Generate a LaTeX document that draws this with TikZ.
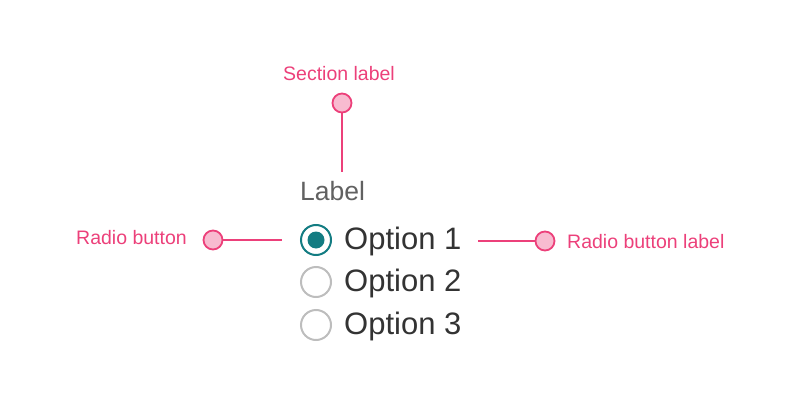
\documentclass[tikz,border=0pt]{standalone}
\usepackage{fontspec}
\setmainfont{Liberation Sans}
\definecolor{pinkline}{HTML}{EC407A}
\definecolor{pinkfill}{HTML}{F8BBD0}
\definecolor{teal}{HTML}{137C82}
\definecolor{offgray}{HTML}{BDBDBD}
\definecolor{labelgray}{HTML}{616161}
\definecolor{optgray}{HTML}{333333}
\begin{document}
\begin{tikzpicture}[x=1pt,y=-1pt,
  callout/.style={text=pinkline,font=\fontsize{19.5}{22}\selectfont,inner sep=0pt,anchor=base},
  dot/.style={circle,draw=pinkline,fill=pinkfill,line width=1.8pt,minimum size=19pt,inner sep=0pt},
  lead/.style={draw=pinkline,line width=1.8pt},
  opt/.style={text=optgray,font=\fontsize{31}{35}\selectfont,inner sep=0pt,anchor=base west},
  radiooff/.style={circle,draw=offgray,line width=2pt,minimum size=30pt,inner sep=0pt},
  radioon/.style={circle,draw=teal,line width=2pt,minimum size=30pt,inner sep=0pt},
  radiodot/.style={circle,fill=teal,minimum size=17pt,inner sep=0pt}]
\useasboundingbox (0,0) rectangle (808,404);
% section label
\node[callout] (sl) at (339,80) {Section label};
\node[dot] (sld) at (342,103) {};
\coordinate (slend) at (342,172);
\draw[lead] (sld.south) -- (slend);
\node[text=labelgray,font=\fontsize{26.5}{30}\selectfont,inner sep=0pt,anchor=base west] (lab) at (300,200) {Label};
% radios
\node[radioon] (r1) at (316,240) {};
\node[radiodot] (r1d) at (r1.center) {};
\node[radiooff] (r2) at (316,282) {};
\node[radiooff] (r3) at (316,325) {};
\node[opt] (o1) at (344,249) {Option 1};
\node[opt] (o2) at (344,291) {Option 2};
\node[opt] (o3) at (344,334) {Option 3};
% left callout
\node[callout,anchor=base east] (rb) at (187,244) {Radio button};
\node[dot] (rbd) at (213,240) {};
\coordinate (rbend) at (282,240);
\draw[lead] (rbd.east) -- (rbend);
% right callout
\node[callout,anchor=base west] (rbl) at (567,248) {Radio button label};
\node[dot] (rbld) at (545,241) {};
\coordinate (rblend) at (478,241);
\draw[lead] (rbld.west) -- (rblend);
\end{tikzpicture}
\end{document}
